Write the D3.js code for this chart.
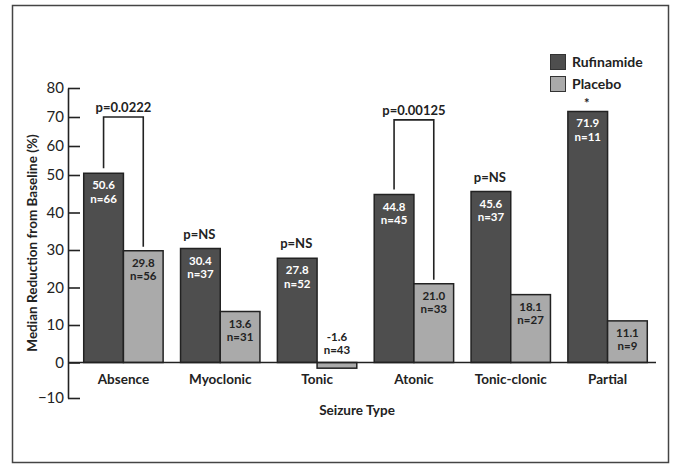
<!DOCTYPE html>
<html>
<head>
<meta charset="utf-8">
<script src="https://cdn.jsdelivr.net/npm/d3@7"></script>
<style>
  body { margin: 0; background: #fff; }
  text { font-family: Lato, "Open Sans", sans-serif; fill: #222; }
</style>
</head>
<body>
<script>
const categories = ['Absence', 'Myoclonic', 'Tonic', 'Atonic', 'Tonic-clonic', 'Partial'];
const series = ['Rufinamide', 'Placebo'];
const rufinamide = [50.6, 30.4, 27.8, 44.8, 45.6, 71.9];
const rufinamideN = [66, 37, 52, 45, 37, 11];
const placebo = [29.8, 13.6, -1.6, 21.0, 18.1, 11.1];
const placeboN = [56, 31, 43, 33, 27, 9];
const pLabels = ['p=0.0222', 'p=NS', 'p=NS', 'p=0.00125', 'p=NS', '*'];
const bracketLevel = [70, null, null, 69, null, null]; // only the significant pairs get a bracket
const yTicks = [-10, 0, 10, 20, 30, 40, 50, 60, 70, 80];

const W = 674, H = 466;
const colors = { Rufinamide: '#4e4e4e', Placebo: '#aaaaaa' };

const svg = d3.select('body').append('svg')
    .attr('width', W)
    .attr('height', H);

// outer frame
svg.append('rect')
    .attr('x', 12.5).attr('y', 5.5)
    .attr('width', 656).attr('height', 457)
    .attr('fill', 'none')
    .attr('stroke', '#444')
    .attr('stroke-width', 1.5);

const x = d3.scaleBand()
    .domain(categories)
    .range([75, 656])
    .paddingInner(0.18)
    .paddingOuter(0.09);

const xSub = d3.scaleBand()
    .domain(series)
    .range([0, x.bandwidth()]);

// the printed axis is not uniform: tick spacing narrows above 50
const y = d3.scaleLinear()
    .domain([-10, 0, 50, 80])
    .range([398, 362.5, 175, 88]);

// y axis, ticks pointing inward
const yAxis = svg.append('g')
    .attr('transform', 'translate(68,0)')
    .style('color', '#222')
    .call(d3.axisLeft(y).tickValues(yTicks).tickSize(-12).tickSizeOuter(0).tickPadding(4));
yAxis.selectAll('path, line').attr('stroke-width', 1.6);
yAxis.selectAll('text')
    .attr('font-family', 'Lato, sans-serif')
    .attr('font-size', 15)
    .attr('fill', '#222');

svg.append('text')
    .attr('transform', `translate(37,${(y(-10) + y(80)) / 2}) rotate(-90)`)
    .attr('text-anchor', 'middle')
    .attr('font-size', 13.5)
    .attr('font-weight', 'bold')
    .text('Median Reduction from Baseline (%)');

// bars
const groups = svg.selectAll('.group')
    .data(categories)
    .enter()
    .append('g')
    .attr('class', 'group')
    .attr('transform', d => `translate(${x(d)},0)`);

const rows = categories.map((c, i) => [
    { s: 'Rufinamide', v: rufinamide[i], n: rufinamideN[i] },
    { s: 'Placebo', v: placebo[i], n: placeboN[i] }
]);

groups.each(function(c, i) {
    const g = d3.select(this);
    rows[i].forEach(d => {
        g.append('rect')
            .attr('x', xSub(d.s))
            .attr('y', y(Math.max(0, d.v)))
            .attr('width', xSub.bandwidth())
            .attr('height', Math.abs(y(d.v) - y(0)))
            .attr('fill', colors[d.s])
            .attr('stroke', '#222')
            .attr('stroke-width', 1.5);

        const cx = xSub(d.s) + xSub.bandwidth() / 2;
        const y1 = d.v >= 0 ? y(d.v) + 16 : y(0) - 22;
        const fill = d.s === 'Rufinamide' ? '#fff' : '#222';
        [d.v.toFixed(1), 'n=' + d.n].forEach((t, k) => {
            g.append('text')
                .attr('x', cx)
                .attr('y', y1 + k * 13.5)
                .attr('text-anchor', 'middle')
                .attr('font-size', 11.5)
                .attr('font-weight', 'bold')
                .style('fill', fill)
                .text(t);
        });
    });
});

// zero line
svg.append('line')
    .attr('x1', 68).attr('x2', 656)
    .attr('y1', y(0)).attr('y2', y(0))
    .attr('stroke', '#222')
    .attr('stroke-width', 1.6);

// p-values and brackets
categories.forEach((c, i) => {
    const xr = x(c) + xSub('Rufinamide') + xSub.bandwidth() / 2;
    const xp = x(c) + xSub('Placebo') + xSub.bandwidth() / 2;
    if (bracketLevel[i] != null) {
        const yb = y(bracketLevel[i]);
        svg.append('path')
            .attr('d', `M${xr},${y(rufinamide[i]) - 5}V${yb}H${xp}V${y(placebo[i]) - 4}`)
            .attr('fill', 'none')
            .attr('stroke', '#222')
            .attr('stroke-width', 1.6);
        svg.append('text')
            .attr('x', (xr + xp) / 2)
            .attr('y', yb - 5)
            .attr('text-anchor', 'middle')
            .attr('font-size', 13)
            .attr('font-weight', 'bold')
            .text(pLabels[i]);
    } else {
        const star = pLabels[i] === '*';
        svg.append('text')
            .attr('x', xr - 1)
            .attr('y', y(rufinamide[i]) - (star ? 3 : 10))
            .attr('text-anchor', 'middle')
            .attr('font-size', 13)
            .attr('font-weight', 'bold')
            .text(pLabels[i]);
    }
});

// category labels
svg.selectAll('.cat')
    .data(categories)
    .enter()
    .append('text')
    .attr('class', 'cat')
    .attr('x', d => x(d) + x.bandwidth() / 2)
    .attr('y', 384)
    .attr('text-anchor', 'middle')
    .attr('font-size', 13.5)
    .attr('font-weight', 'bold')
    .text(d => d);

svg.append('text')
    .attr('x', 357)
    .attr('y', 415)
    .attr('text-anchor', 'middle')
    .attr('font-size', 13.5)
    .attr('font-weight', 'bold')
    .text('Seizure Type');

// legend
const legend = svg.append('g').attr('transform', 'translate(550,54)');
series.forEach((s, i) => {
    legend.append('rect')
        .attr('x', 0.5).attr('y', i * 22 + 0.5)
        .attr('width', 15).attr('height', 15)
        .attr('fill', colors[s])
        .attr('stroke', '#333')
        .attr('stroke-width', 1);
    legend.append('text')
        .attr('x', 22)
        .attr('y', i * 22 + 13)
        .attr('font-size', 14)
        .attr('font-weight', 'bold')
        .text(s);
});
</script>
</body>
</html>
